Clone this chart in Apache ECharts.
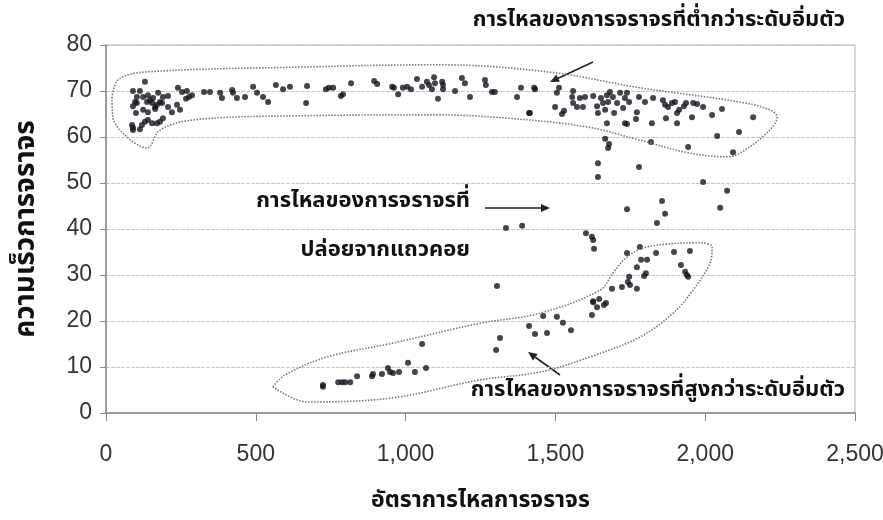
<!DOCTYPE html>
<html>
<head>
<meta charset="utf-8">
<script src="https://cdn.jsdelivr.net/npm/echarts@6/dist/echarts.min.js"></script>
<style>
  html, body { margin: 0; padding: 0; background: #fff; }
  #chart { width: 883px; height: 520px; }
</style>
</head>
<body>
<div id="chart"></div>
<script>
// ข้อมูลอ่านจากภาพ [อัตราการไหล, ความเร็ว]
var uncongested = [
  [90,70.0],[113,70.0],[130,72.0],[103,68.7],[97,67.6],[103,67.4],[90,66.7],[100,65.2],
  [90,62.0],[87,62.6],[90,61.5],[113,61.7],[120,62.6],[130,63.3],[140,63.7],[154,63.0],
  [170,63.0],[180,63.3],[190,64.1],[124,68.7],[137,67.6],[140,69.1],[147,68.0],[154,67.4],
  [157,68.5],[164,66.5],[170,67.0],[174,69.6],[180,67.6],[187,67.4],[190,68.7],[207,68.9],
  [124,65.9],[140,65.4],[164,66.1],[207,66.5],[220,65.4],[237,67.0],[247,65.9],[240,70.7],
  [254,69.8],[270,70.0],[277,68.7],[267,68.3],[287,69.1],[327,69.8],[347,69.8],[381,69.6],
  [387,68.5],[421,70.2],[424,69.6],[437,68.5],[464,68.7],[491,70.9],[504,69.6],[524,68.7],
  [541,67.6],[567,71.3],[591,70.4],[614,70.9],
  [671,71.1],[668,67.4],[734,70.4],[744,70.7],[758,70.7],[784,68.9],[791,69.3],[818,71.7],
  [895,72.2],[905,71.5],[955,70.9],[961,70.7],[975,69.3],[991,70.7],[1005,70.9],[1018,70.4],
  [1038,72.6],[1055,70.9],[1071,72.0],[1078,71.3],[1088,70.4],[1095,73.0],[1098,71.7],[1108,68.3],
  [1122,72.0],[1125,71.3],[1125,70.4],[1165,70.0],[1188,72.8],[1198,71.7],[1215,68.7],[1265,72.4],
  [1268,71.3],[1288,69.8],[1298,69.8],[1372,68.7],[1385,70.7],[1432,70.4],[1412,65.2],
  [1429,70.7],[1415,65.2],[1512,70.7],[1505,69.6],[1499,66.5],[1522,65.0],[1529,65.7],[1559,70.0],
  [1556,68.7],[1559,67.4],[1572,66.5],[1582,68.5],[1592,66.5],[1599,68.7],[1626,68.9],[1639,66.7],
  [1642,65.2],[1652,68.5],[1659,67.4],[1666,65.9],[1672,69.1],[1676,67.6],[1682,69.8],[1692,68.7],
  [1696,65.2],[1706,67.4],[1716,69.6],[1726,66.3],[1732,68.5],[1739,69.6],[1746,67.6],[1672,63.0],
  [1732,63.0],[1739,62.8],[1772,65.4],[1769,63.9],[1779,68.7],[1799,67.6],[1822,63.0],[1826,68.5],
  [1859,68.0],[1866,67.0],[1869,64.1],[1876,66.5],[1889,67.4],[1899,67.6],[1906,63.0],[1906,65.2],
  [1913,65.9],[1929,66.7],[1936,67.4],[1956,64.3],[1960,67.4],[1973,67.2],[1993,66.5],[2023,64.8],
  [2056,66.1],[2160,64.3],[2113,61.1],[2040,60.2],[2093,56.7]
];
var discharge = [
  [1943,57.8],[1819,58.9],[1666,59.6],[1679,58.5],[1676,57.6],[1642,54.3],[1779,53.5],[1642,51.3],
  [1993,50.2],[2073,48.3],[1856,46.1],[1739,44.3],[1866,43.3],[1839,41.3],[2050,44.6],
  [1335,40.2],[1389,40.7],[1305,27.6],[1602,39.1],[1622,38.3],[1626,37.6],[1629,35.7]
];
var congested = [
  [724,6.1],[724,5.7],[775,6.7],[788,6.7],[798,6.7],[815,6.7],[838,8.0],[888,8.0],
  [891,8.5],[921,8.5],[941,9.8],[948,8.9],[958,8.7],[978,8.9],[1008,10.9],[1031,8.9],
  [1055,15.0],[1068,9.8],[1302,13.7],[1315,16.3],[1412,18.9],[1432,17.2],[1459,21.1],[1472,17.4],
  [1505,20.9],[1525,19.6],[1552,18.0],[1622,21.3],[1626,24.1],[1739,34.8],[1782,36.1],[1836,34.8],
  [1896,35.0],[1949,35.2],[1786,33.3],[1806,33.3],[1772,31.7],[1919,32.2],[1933,30.7],[1939,30.0],
  [1943,29.6],[1796,29.8],[1802,30.4],[1746,29.6],[1742,28.5],[1749,27.8],[1772,27.0],[1722,27.4],
  [1689,27.0],[1626,24.3],[1646,24.8],[1639,23.0],[1662,23.5],[1669,23.9]
];
// เส้นประล้อมกลุ่มข้อมูล
var outlineTop = [
  [20,68.5],[40,72.4],[124,74.1],[648,75.2],[1115,75.7],[1482,74.1],[1782,70.7],[2116,67.6],
  [2216,65.9],[2240,64.3],[2206,60.9],[2116,56.5],[2073,55.7],[1949,56.5],[1782,59.3],[1606,62.2],
  [1339,64.1],[1115,64.8],[624,64.6],[290,63.7],[180,61.5],[137,57.6],[70,60.0],[23,64.3],[20,68.5]
];
var outlineBottom = [
  [557,5.7],[598,8.3],[738,12.2],[958,15.2],[1248,19.5],[1449,21.7],[1649,26.7],[1692,30.4],
  [1739,33.9],[1806,36.1],[1983,37.0],[2023,36.1],[2016,32.6],[1959,26.7],[1893,21.7],[1782,16.5],
  [1616,12.2],[1449,8.9],[1248,7.2],[958,3.3],[671,2.4],[557,5.7]
];

var thaiFont = '"Noto Sans Thai", "Noto Sans", sans-serif';
var numFont = '"Liberation Sans Narrow", "Liberation Sans", sans-serif';

function arrow(x1, y1, x2, y2) {
  var a = Math.atan2(y2 - y1, x2 - x1), L = 9, W = 4;
  var bx = x2 - L * Math.cos(a), by = y2 - L * Math.sin(a);
  return {
    type: 'group', children: [
      { type: 'line', shape: { x1: x1, y1: y1, x2: bx, y2: by }, style: { stroke: '#222', lineWidth: 1.6 } },
      { type: 'polygon', shape: { points: [[x2, y2],
          [bx + W * Math.sin(a), by - W * Math.cos(a)],
          [bx - W * Math.sin(a), by + W * Math.cos(a)]] }, style: { fill: '#222' } }
    ]
  };
}

function label(text, x, y, align) {
  return { type: 'text',
    style: { text: text, x: x, y: y, font: 'bold 22px ' + thaiFont, fill: '#111',
      textAlign: align || 'left', textVerticalAlign: 'middle' } };
}

var dotStyle = { color: '#151520' };
var chart = echarts.init(document.getElementById('chart'));
chart.setOption({
  animation: false,
  grid: { left: 106, right: 28, top: 45, bottom: 107, containLabel: false, outerBoundsMode: 'none',
    show: true, borderColor: '#b0b0b0', borderWidth: 1 },
  xAxis: {
    type: 'value', min: 0, max: 2500, interval: 500,
    name: 'อัตราการไหลการจราจร', nameLocation: 'middle', nameGap: 78,
    nameTextStyle: { fontFamily: thaiFont, fontWeight: 'bold', fontSize: 23, color: '#111' },
    axisLine: { lineStyle: { color: '#888', width: 1.5 } },
    axisTick: { show: true, length: 8, lineStyle: { color: '#888' } },
    axisLabel: { fontFamily: numFont, fontSize: 23, color: '#333', margin: 30,
      formatter: function (v) { return v.toLocaleString('en-US'); } },
    splitLine: { show: false }
  },
  yAxis: {
    type: 'value', min: 0, max: 80, interval: 10,
    name: 'ความเร็วการจราจร', nameLocation: 'middle', nameGap: 64, nameRotate: 90,
    nameTextStyle: { fontFamily: thaiFont, fontWeight: 'bold', fontSize: 28, color: '#111' },
    axisLine: { show: true, lineStyle: { color: '#888', width: 1.5 } },
    axisTick: { show: true, length: 6, lineStyle: { color: '#888' } },
    axisLabel: { fontFamily: numFont, fontSize: 23, color: '#333', margin: 14 },
    splitLine: { lineStyle: { color: '#c8c8c8', type: [4, 1] } }
  },
  series: [
    { type: 'scatter', data: uncongested, symbolSize: 6, itemStyle: dotStyle },
    { type: 'scatter', data: discharge, symbolSize: 6, itemStyle: dotStyle },
    { type: 'scatter', data: congested, symbolSize: 6, itemStyle: dotStyle },
    { type: 'line', data: outlineTop, smooth: 0.35, symbol: 'none', silent: true,
      lineStyle: { color: '#777', width: 1.6, type: [1.5, 1.5] } },
    { type: 'line', data: outlineBottom, smooth: 0.35, symbol: 'none', silent: true,
      lineStyle: { color: '#777', width: 1.6, type: [1.5, 1.5] } }
  ],
  graphic: [
    label('การไหลของการจราจรที่ต่ำกว่าระดับอิ่มตัว', 845, 22, 'right'),
    label('การไหลของการจราจรที่', 470, 203, 'right'),
    label('ปล่อยจากแถวคอย', 470, 252, 'right'),
    label('การไหลของการจราจรที่สูงกว่าระดับอิ่มตัว', 845, 392, 'right'),
    arrow(593, 62, 550, 82),
    arrow(485, 208, 550, 208),
    arrow(560, 375, 528, 352)
  ]
});
</script>
</body>
</html>
